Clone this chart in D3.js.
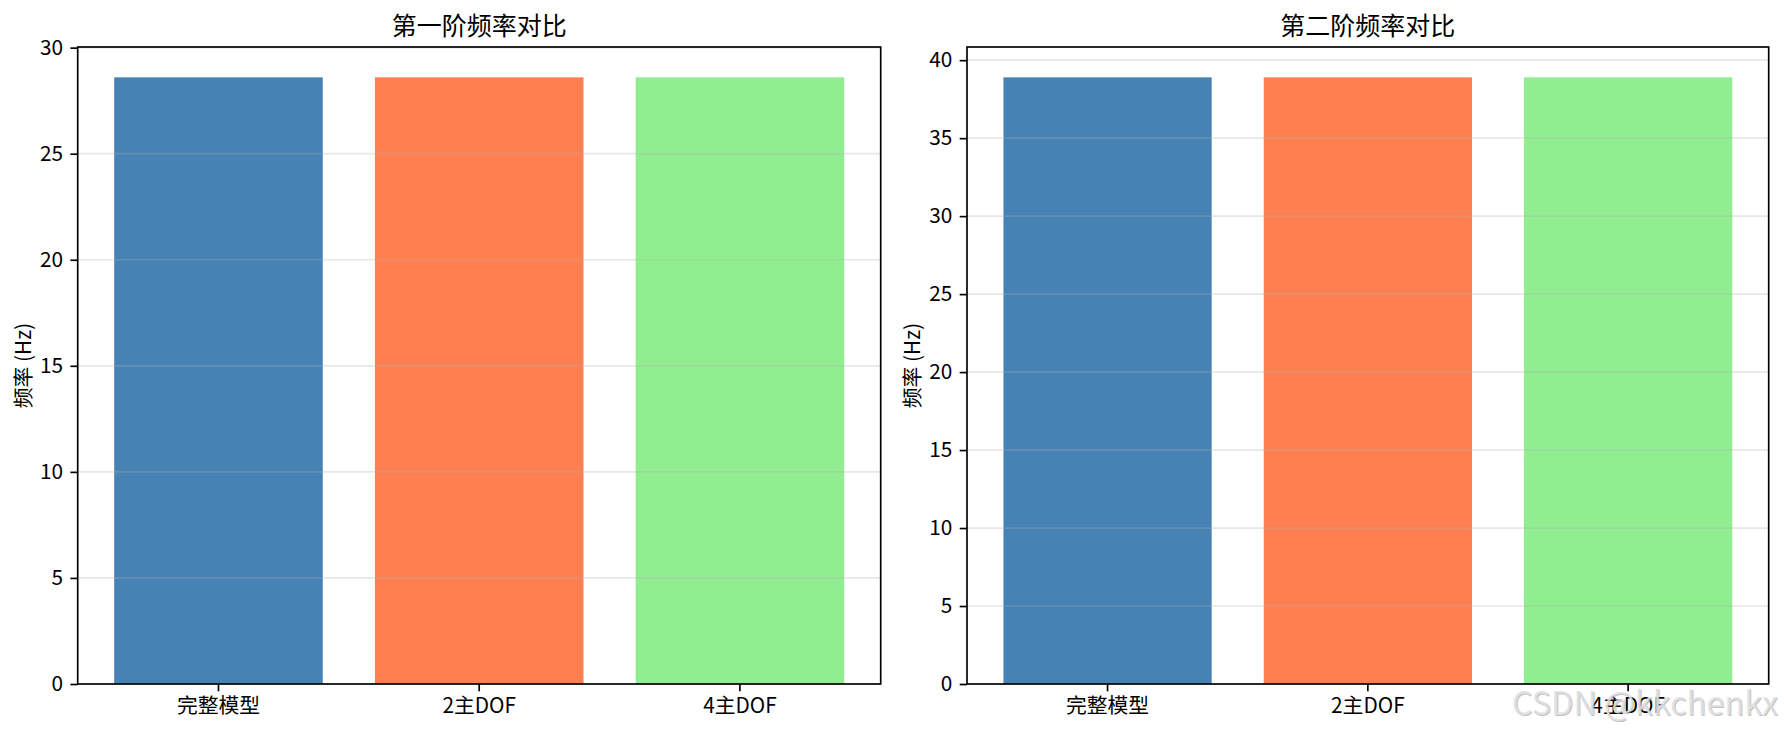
<!DOCTYPE html>
<html>
<head>
<meta charset="utf-8">
<script src="https://cdn.jsdelivr.net/npm/d3@7"></script>
<style>
    html, body { margin: 0; padding: 0; background: #fff; }
    svg { display: block; }
    text { font-family: "Noto Sans CJK SC", "DejaVu Sans", sans-serif; fill: #000; }
</style>
</head>
<body>
<svg id="chart" width="1784" height="734"></svg>
<script>
// Chart data
var categories = ['完整模型', '2主DOF', '4主DOF'];
var barColors = ['#4682b4', '#ff7f50', '#90ee90'];
var firstFreq = [28.6, 28.6, 28.6];
var secondFreq = [38.9, 38.9, 38.9];
var firstTicks = [0, 5, 10, 15, 20, 25, 30];
var secondTicks = [0, 5, 10, 15, 20, 25, 30, 35, 40];
var titles = ['第一阶频率对比', '第二阶频率对比'];
var yLabel = '频率 (Hz)';

var svg = d3.select('svg#chart');

var plotTop = 47, plotBottom = 684;
var tickLen = 7.3, tickPad = 7.3;

/**
 * Draw one bar panel between left and right pixel edges.
 */
function drawPanel(left, right, values, ticks, title) {
    var g = svg.append('g');

    var x = d3.scaleBand()
        .domain(categories)
        .range([left, right])
        .paddingInner(0.2)
        .paddingOuter(0.14);

    var y = d3.scaleLinear()
        .domain([0, d3.max(values) * 1.05])
        .range([plotBottom, plotTop]);

    // bars
    g.selectAll('.bar')
        .data(values)
        .enter().append('rect')
            .attr('class', 'bar')
            .attr('x', function(d, i) { return x(categories[i]); })
            .attr('y', function(d) { return y(d); })
            .attr('width', x.bandwidth())
            .attr('height', function(d) { return y(0) - y(d); })
            .attr('fill', function(d, i) { return barColors[i]; });

    // grid lines (over bars, like matplotlib default)
    g.selectAll('.grid')
        .data(ticks)
        .enter().append('line')
            .attr('class', 'grid')
            .attr('x1', left)
            .attr('x2', right)
            .attr('y1', function(d) { return y(d); })
            .attr('y2', function(d) { return y(d); })
            .attr('stroke', '#b0b0b0')
            .attr('stroke-opacity', 0.3)
            .attr('stroke-width', 1.67);

    // y axis
    var yAxis = d3.axisLeft(y)
        .tickValues(ticks)
        .tickFormat(d3.format('d'))
        .tickSize(tickLen)
        .tickPadding(tickPad);
    var ya = g.append('g')
        .attr('transform', 'translate(' + left + ',0)')
        .call(yAxis);
    ya.select('.domain').remove();

    // x axis
    var xAxis = d3.axisBottom(x)
        .tickSize(tickLen)
        .tickPadding(tickPad);
    var xa = g.append('g')
        .attr('transform', 'translate(0,' + plotBottom + ')')
        .call(xAxis);
    xa.select('.domain').remove();

    [ya, xa].forEach(function(a) {
        a.selectAll('.tick line').attr('stroke', '#000').attr('stroke-width', 1.67);
        a.selectAll('.tick text')
            .attr('font-family', null)
            .style('font-size', '20.8px')
            .attr('fill', '#000');
    });

    // frame
    g.append('rect')
        .attr('x', left)
        .attr('y', plotTop)
        .attr('width', right - left)
        .attr('height', plotBottom - plotTop)
        .attr('fill', 'none')
        .attr('stroke', '#000')
        .attr('stroke-width', 1.67);

    // title
    g.append('text')
        .attr('x', (left + right) / 2)
        .attr('y', plotTop - 12.5)
        .attr('text-anchor', 'middle')
        .style('font-size', '25px')
        .text(title);

    // y label
    g.append('text')
        .attr('transform', 'translate(' + (left - 47) + ',' + ((plotTop + plotBottom) / 2) + ') rotate(-90)')
        .attr('text-anchor', 'middle')
        .style('font-size', '20.8px')
        .text(yLabel);
}

drawPanel(77.7, 880.7, firstFreq, firstTicks, titles[0]);
drawPanel(967, 1768.7, secondFreq, secondTicks, titles[1]);

// watermark
var wm = svg.append('g')
    .style('font-family', '"Liberation Sans", Arial, sans-serif')
    .style('font-size', '32.5px');
wm.append('text')
    .attr('x', 1779).attr('y', 716)
    .attr('text-anchor', 'end')
    .style('fill', '#9a9a9a')
    .style('fill-opacity', 0.6)
    .text('CSDN @kkchenkx');
wm.append('text')
    .attr('x', 1778).attr('y', 715)
    .attr('text-anchor', 'end')
    .style('fill', '#e2e2e2')
    .style('fill-opacity', 0.85)
    .text('CSDN @kkchenkx');
</script>
</body>
</html>
